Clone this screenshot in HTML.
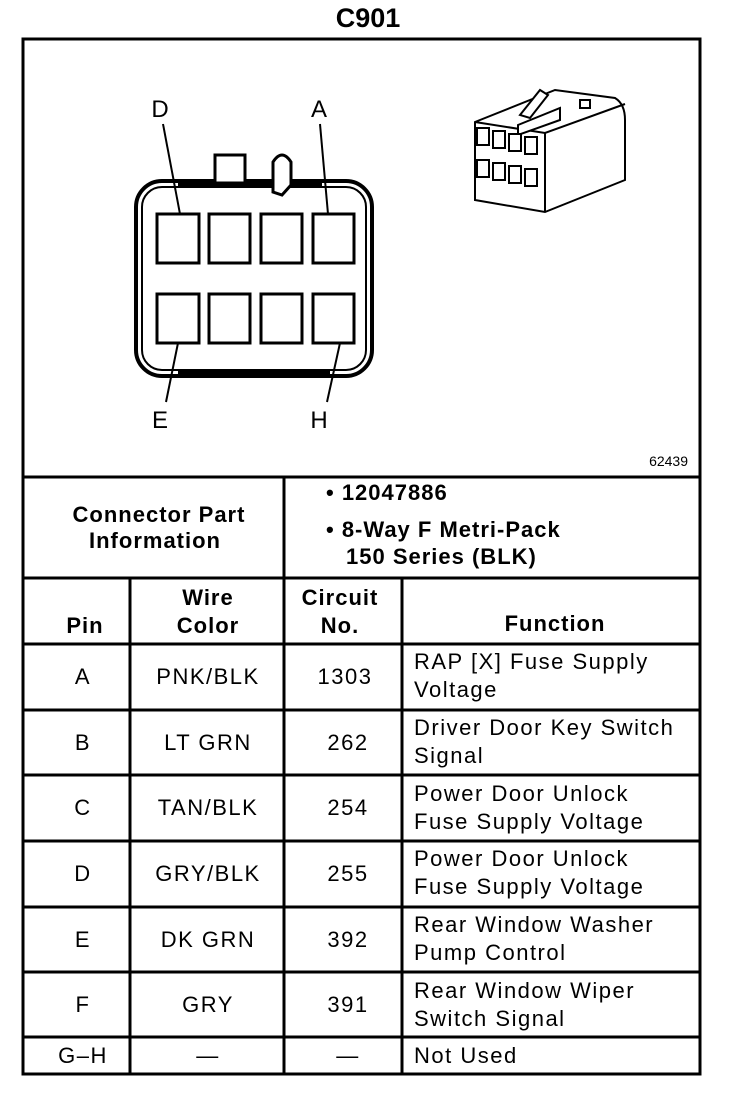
<!DOCTYPE html>
<html><head><meta charset="utf-8"><style>
html,body{margin:0;padding:0;background:#fff;}
svg{display:block;}
text{font-family:"Liberation Sans",Arial,sans-serif;fill:#000;}
.b{font-weight:bold;font-size:22px;letter-spacing:1px;}
.t{font-size:22px;letter-spacing:1.5px;}
</style></head><body>
<svg width="736" height="1096" viewBox="0 0 736 1096" xmlns="http://www.w3.org/2000/svg">
<text x="368" y="27" text-anchor="middle" font-weight="bold" font-size="27">C901</text>
<g stroke="#000" fill="none" stroke-width="3">
<rect x="23" y="39" width="677" height="1035"/>
<line x1="23" y1="477" x2="700" y2="477"/>
<line x1="23" y1="578" x2="700" y2="578"/>
<line x1="284" y1="477" x2="284" y2="578"/>
<line x1="130" y1="578" x2="130" y2="1074"/>
<line x1="284" y1="578" x2="284" y2="1074"/>
<line x1="402" y1="578" x2="402" y2="1074"/>
<line x1="23" y1="644" x2="700" y2="644"/>
<line x1="23" y1="710" x2="700" y2="710"/>
<line x1="23" y1="775" x2="700" y2="775"/>
<line x1="23" y1="841" x2="700" y2="841"/>
<line x1="23" y1="907" x2="700" y2="907"/>
<line x1="23" y1="972" x2="700" y2="972"/>
<line x1="23" y1="1037" x2="700" y2="1037"/>
</g>
<g stroke="#000" fill="none">
<rect x="136" y="181" width="236" height="195" rx="26" stroke-width="4"/>
<rect x="142" y="187" width="224" height="183" rx="20" stroke-width="2"/>
<line x1="178" y1="184" x2="322" y2="184" stroke-width="4"/>
<line x1="178" y1="372" x2="330" y2="372" stroke-width="5"/>
<rect x="215" y="155" width="30" height="28" stroke-width="3" fill="#fff"/>
<path d="M273 192 L273 162 Q282 148 291 162 L291 185 L282 195 Z" stroke-width="3" fill="#fff"/>
<g stroke-width="3">
<rect x="157" y="214" width="42" height="49"/>
<rect x="209" y="214" width="41" height="49"/>
<rect x="261" y="214" width="41" height="49"/>
<rect x="313" y="214" width="41" height="49"/>
<rect x="157" y="294" width="42" height="49"/>
<rect x="209" y="294" width="41" height="49"/>
<rect x="261" y="294" width="41" height="49"/>
<rect x="313" y="294" width="41" height="49"/>
</g>
<g stroke-width="2">
<line x1="163" y1="124" x2="180" y2="214"/>
<line x1="320" y1="124" x2="328" y2="214"/>
<line x1="178" y1="343" x2="166" y2="402"/>
<line x1="340" y1="343" x2="327" y2="402"/>
</g>
</g>
<text x="160" y="117" text-anchor="middle" font-size="24">D</text>
<text x="319" y="117" text-anchor="middle" font-size="24">A</text>
<text x="160" y="428" text-anchor="middle" font-size="24">E</text>
<text x="319" y="428" text-anchor="middle" font-size="24">H</text>
<text x="688" y="466" text-anchor="end" font-size="14">62439</text>
<g stroke="#000" stroke-width="2" fill="#fff">
<path d="M475 122 L555 90 L615 98 Q625 104 625 120 L625 180 L545 212 L475 200 Z"/>
<path d="M475 122 L545 133 L625 104" fill="none"/>
<path d="M545 133 L545 212" fill="none"/>
<path d="M518 125 L518 135 L560 120 L560 108 Z"/>
<path d="M520 115 L540 90 L548 95 L530 118 Z"/>
<rect x="580" y="100" width="10" height="8"/>
<rect x="477" y="128" width="12" height="17"/><rect x="493" y="131" width="12" height="17"/><rect x="509" y="134" width="12" height="17"/><rect x="525" y="137" width="12" height="17"/>
<rect x="477" y="160" width="12" height="17"/><rect x="493" y="163" width="12" height="17"/><rect x="509" y="166" width="12" height="17"/><rect x="525" y="169" width="12" height="17"/>
</g>
<text x="159" y="522" text-anchor="middle" class="b">Connector Part</text>
<text x="155" y="548" text-anchor="middle" class="b">Information</text>
<text x="326" y="500" class="b">• 12047886</text>
<text x="326" y="537" class="b">• 8-Way F Metri-Pack</text>
<text x="346" y="564" class="b">150 Series (BLK)</text>
<text x="85" y="633" text-anchor="middle" class="b">Pin</text>
<text x="208" y="605" text-anchor="middle" class="b">Wire</text>
<text x="208" y="633" text-anchor="middle" class="b">Color</text>
<text x="340" y="605" text-anchor="middle" class="b">Circuit</text>
<text x="340" y="633" text-anchor="middle" class="b">No.</text>
<text x="555" y="631" text-anchor="middle" class="b">Function</text>
<text x="83" y="684" text-anchor="middle" class="t">A</text><text x="208" y="684" text-anchor="middle" class="t">PNK/BLK</text><text x="345" y="684" text-anchor="middle" class="t">1303</text>
<text x="414" y="669" class="t">RAP [X] Fuse Supply</text><text x="414" y="697" class="t">Voltage</text>
<text x="83" y="750" text-anchor="middle" class="t">B</text><text x="208" y="750" text-anchor="middle" class="t">LT GRN</text><text x="348" y="750" text-anchor="middle" class="t">262</text>
<text x="414" y="735" class="t">Driver Door Key Switch</text><text x="414" y="763" class="t">Signal</text>
<text x="83" y="815" text-anchor="middle" class="t">C</text><text x="208" y="815" text-anchor="middle" class="t">TAN/BLK</text><text x="348" y="815" text-anchor="middle" class="t">254</text>
<text x="414" y="801" class="t">Power Door Unlock</text><text x="414" y="829" class="t">Fuse Supply Voltage</text>
<text x="83" y="881" text-anchor="middle" class="t">D</text><text x="208" y="881" text-anchor="middle" class="t">GRY/BLK</text><text x="348" y="881" text-anchor="middle" class="t">255</text>
<text x="414" y="866" class="t">Power Door Unlock</text><text x="414" y="894" class="t">Fuse Supply Voltage</text>
<text x="83" y="947" text-anchor="middle" class="t">E</text><text x="208" y="947" text-anchor="middle" class="t">DK GRN</text><text x="348" y="947" text-anchor="middle" class="t">392</text>
<text x="414" y="932" class="t">Rear Window Washer</text><text x="414" y="960" class="t">Pump Control</text>
<text x="83" y="1012" text-anchor="middle" class="t">F</text><text x="208" y="1012" text-anchor="middle" class="t">GRY</text><text x="348" y="1012" text-anchor="middle" class="t">391</text>
<text x="414" y="998" class="t">Rear Window Wiper</text><text x="414" y="1026" class="t">Switch Signal</text>
<text x="83" y="1063" text-anchor="middle" class="t">G–H</text><text x="208" y="1063" text-anchor="middle" class="t">—</text><text x="348" y="1063" text-anchor="middle" class="t">—</text>
<text x="414" y="1063" class="t">Not Used</text>
</svg>
</body></html>
